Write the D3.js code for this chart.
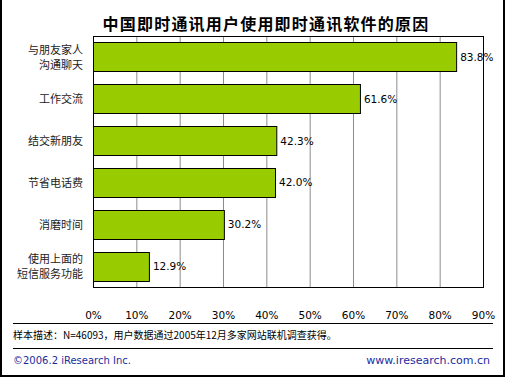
<!DOCTYPE html>
<html><head><meta charset="utf-8">
<script src="https://cdn.jsdelivr.net/npm/d3@7"></script>
<style>body{margin:0;background:#fff}svg{display:block}</style>
</head><body>
<script>
const categories = [["与朋友家人","沟通聊天"],["工作交流"],["结交新朋友"],["节省电话费"],["消磨时间"],["使用上面的","短信服务功能"]];
const values = [83.8, 61.6, 42.3, 42.0, 30.2, 12.9];
const valueLabels = ["83.8%","61.6%","42.3%","42.0%","30.2%","12.9%"];
const ticks = [0,10,20,30,40,50,60,70,80,90];
const title = "中国即时通讯用户使用即时通讯软件的原因";
const sourceText = "样本描述：N=46093，用户数据通过2005年12月多家网站联机调查获得。";
const copyright = "©2006.2 iResearch Inc.";
const website = "www.iresearch.com.cn";

const W = 506, H = 377;
const cjk = "'Noto Sans CJK SC', sans-serif";
const svg = d3.select("body").append("svg").attr("width", W).attr("height", H);
svg.append("rect").attr("width", W).attr("height", H).attr("fill", "#fff");

// outer frame (left, right, bottom)
svg.append("path").attr("d", `M1,0 V${H-1} H${W-2} V0`).attr("fill","none").attr("stroke","#000").attr("stroke-width",2);

svg.append("text").attr("x", 266).attr("y", 30).attr("text-anchor","middle")
  .attr("font-family", cjk).attr("font-weight","bold").attr("font-size",16)
  .attr("letter-spacing", 1.2).attr("fill","#000").text(title);

const m = {l:93, r:483, t:36, b:287};
const x = d3.scaleLinear().domain([0,90]).range([m.l, m.r]);
const y = d3.scaleBand().domain(d3.range(categories.length)).range([m.t, m.b]).paddingInner(0.31).paddingOuter(0.155);

const g = svg.append("g");
// grid
g.selectAll("line.grid").data(ticks.slice(1,-1)).join("line")
  .attr("x1", d=>x(d)+0.5).attr("x2", d=>x(d)+0.5).attr("y1", m.t).attr("y2", m.b)
  .attr("stroke","#8c8c8c").attr("stroke-width",1);
// plot frame
g.append("rect").attr("x", m.l+0.5).attr("y", m.t+0.5).attr("width", m.r-m.l).attr("height", m.b-m.t)
  .attr("fill","none").attr("stroke","#000").attr("stroke-width",1);

// bars
g.selectAll("rect.bar").data(values).join("rect")
  .attr("x", x(0)+0.5).attr("y", (d,i)=>Math.round(y(i))+0.5)
  .attr("width", d=>x(d)-x(0)).attr("height", Math.round(y.bandwidth()))
  .attr("fill","#99cc00").attr("stroke","#000").attr("stroke-width",1);

// value labels
g.selectAll("text.val").data(values).join("text")
  .attr("x", d=>x(d)+4).attr("y", (d,i)=>y(i)+y.bandwidth()/2+4)
  .attr("font-family","'DejaVu Sans', sans-serif").attr("font-size",10.5).attr("fill","#000")
  .text((d,i)=>valueLabels[i]);

// category labels
categories.forEach((lines,i)=>{
  const cy = y(i)+y.bandwidth()/2;
  const lh = 15.5;
  lines.forEach((ln,j)=>{
    svg.append("text").attr("x", 83).attr("y", cy + (j-(lines.length-1)/2)*lh + 4.5)
      .attr("text-anchor","end").attr("font-family", cjk).attr("font-size",11).attr("fill","#222")
      .text(ln);
  });
});

// x axis
const ax = d3.axisBottom(x).tickValues(ticks).tickFormat(d=>d+"%").tickSize(0).tickPadding(0);
const axg = svg.append("g").attr("transform",`translate(0,${m.b+32})`).call(ax);
axg.select(".domain").remove();
axg.selectAll("text").attr("font-family","'DejaVu Sans', sans-serif").attr("font-size",10.5).attr("fill","#000").attr("dy",0);

// footer
svg.append("line").attr("x1",13).attr("x2",493).attr("y1",323.5).attr("y2",323.5).attr("stroke","#000");
svg.append("line").attr("x1",13).attr("x2",493).attr("y1",348.5).attr("y2",348.5).attr("stroke","#000");
svg.append("text").attr("x",13).attr("y",339).attr("font-family",cjk).attr("font-size",10).attr("fill","#000").text(sourceText);
svg.append("text").attr("x",13).attr("y",364).attr("font-family","'DejaVu Sans', sans-serif").attr("font-size",10).attr("fill","#1a2c9e").text(copyright);
svg.append("text").attr("x",490).attr("y",364).attr("text-anchor","end").attr("font-family","'DejaVu Sans', sans-serif").attr("font-size",11).attr("fill","#1a2c9e").text(website);
</script>
</body></html>
